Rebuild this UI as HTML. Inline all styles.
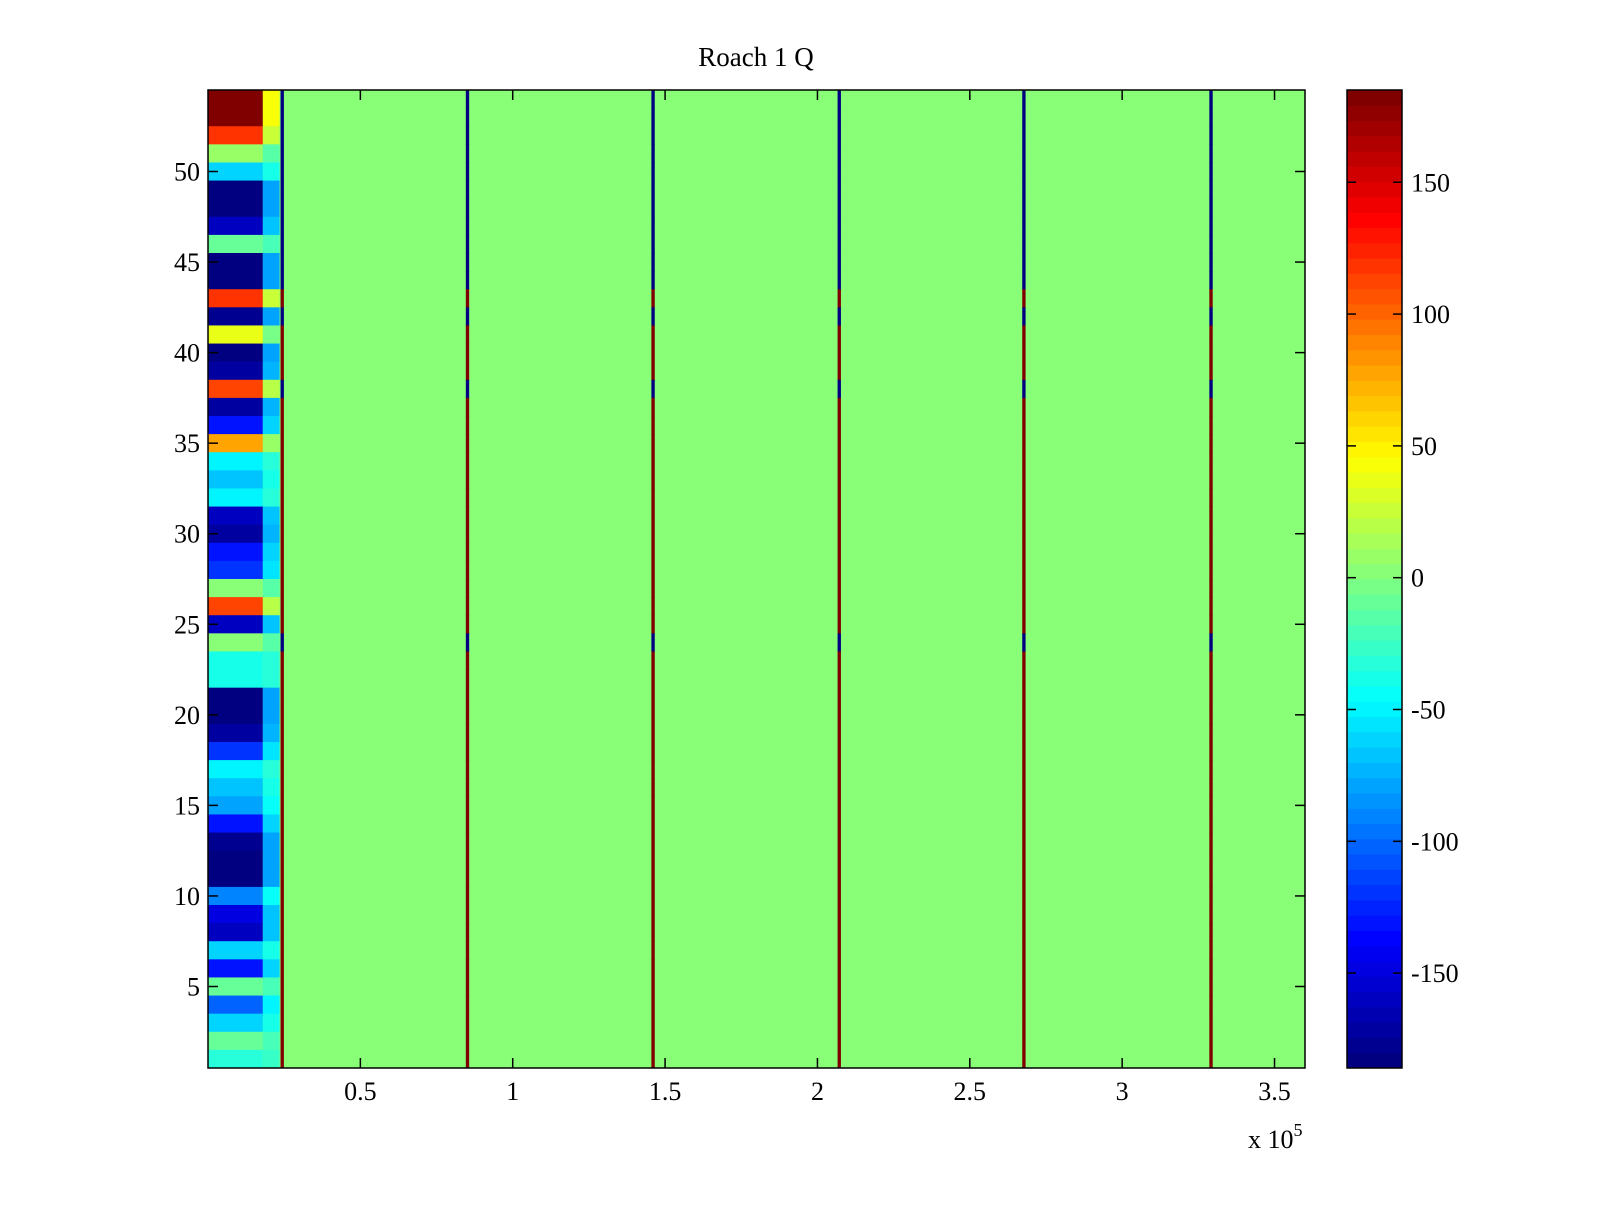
<!DOCTYPE html>
<html><head><meta charset="utf-8"><style>
html,body{margin:0;padding:0;background:#fff;}
svg text{font-family:"Liberation Serif",serif;fill:#000;}
</style></head><body>
<svg id="fig" width="1600" height="1200" xmlns="http://www.w3.org/2000/svg">
<rect width="1600" height="1200" fill="#fff"/>
<g id="heat"></g>
<g id="axes"></g>
<g id="cbar"></g>
<text x="756" y="66" font-size="27" text-anchor="middle">Roach 1 Q</text>
<text x="1248" y="1148" font-size="26">x 10<tspan dy="-12" font-size="18">5</tspan></text>
</svg>
<script>
// rows listed from top (row 54) to bottom (row 1)
const leftValues = [184,184,120,10,-60,-186,-186,-160,-10,-186,-186,120,-180,40,-186,-170,110,-170,-130,80,-50,-70,-50,-160,-170,-130,
 -120,0,110,-160,0,-40,-40,-186,-186,-170,-120,-50,-70,-80,-130,-180,-186,-186,-90,-150,-160,-60,-130,-10,-100,-60,-10,-30];
const lineValues = [-186,-186,-186,-186,-186,-186,-186,-186,-186,-186,-186,185,-186,185,185,185,-186,
 185,185,185,185,185,185,185,185,185,185,185,185,185,-186,185,185,185,185,185,185,185,185,185,185,185,185,185,185,185,185,185,185,185,185,185,185,185];
const linePositions = [0.243,0.851,1.460,2.071,2.677,3.291]; // x in units of 1e5
const bodyValue = 4;
const transitionValue = -25;
const leftBlockEnd = 0.18, transitionEnd = 0.235, lineWidth = 0.011;
const xTicks = [0.5,1,1.5,2,2.5,3,3.5];
const yTicks = [5,10,15,20,25,30,35,40,45,50];
const cTicks = [-150,-100,-50,0,50,100,150];
const cMin = -186, cMax = 185, xMax = 3.6, nRows = 54;

const L=208,R=1305,T=90,B=1068, CL=1347, CR=1402;
const sx = v => L + v/xMax*(R-L);
const rowH = (B-T)/nRows;
const sy = v => T + (nRows+0.5-v)*rowH;
const sc = v => B - (v-cMin)/(cMax-cMin)*(B-T);
function jet(v){
  let t=(v-cMin)/(cMax-cMin); t=Math.max(0,Math.min(1,t));
  t=Math.min(63,Math.floor(t*64))/63;
  const f=x=>Math.max(0,Math.min(1,x));
  const r=f(1.5-Math.abs(4*t-3)), g=f(1.5-Math.abs(4*t-2)), b=f(1.5-Math.abs(4*t-1));
  return `rgb(${Math.round(r*255)},${Math.round(g*255)},${Math.round(b*255)})`;
}
const NS='http://www.w3.org/2000/svg';
function mk(tag,attrs,parent){const e=document.createElementNS(NS,tag);for(const k in attrs)e.setAttribute(k,attrs[k]);parent.appendChild(e);return e;}
const heat=document.getElementById('heat');
const bg=mk('rect',{x:L,y:T,width:R-L,height:B-T,fill:jet(bodyValue)},heat);


leftValues.forEach((v,i)=>{
  const y=T+i*rowH;
  const a=mk('rect',{x:sx(0),y:y,width:sx(leftBlockEnd)-sx(0),height:rowH+0.5,fill:jet(v)},heat);
  
  
  const b=mk('rect',{x:sx(leftBlockEnd),y:y,width:sx(transitionEnd)-sx(leftBlockEnd),height:rowH+0.5,fill:jet((v+transitionValue*2)/3)},heat);
  
  
  linePositions.forEach(p=>{
    const c=mk('rect',{x:sx(p)-1.5,y:y,width:Math.max(3,sx(lineWidth)-sx(0)),height:rowH+0.5,fill:jet(lineValues[i])},heat);
    
    
  });
});
const ax=document.getElementById('axes');
const fr=mk('rect',{x:L,y:T,width:R-L,height:B-T,fill:'none',stroke:'#000','stroke-width':1.5},ax);


xTicks.forEach(t=>{
  const x=sx(t);
  mk('line',{x1:x,y1:B,x2:x,y2:B-10,stroke:'#000','stroke-width':1.5},ax);
  mk('line',{x1:x,y1:T,x2:x,y2:T+10,stroke:'#000','stroke-width':1.5},ax);
  const tx=mk('text',{x:x,y:B+32,'font-size':26,'text-anchor':'middle'},ax);
  tx.textContent=String(t);
  
  
});
yTicks.forEach(t=>{
  const y=sy(t);
  mk('line',{x1:L,y1:y,x2:L+10,y2:y,stroke:'#000','stroke-width':1.5},ax);
  mk('line',{x1:R,y1:y,x2:R-10,y2:y,stroke:'#000','stroke-width':1.5},ax);
  const tx=mk('text',{x:L-8,y:y+9,'font-size':26,'text-anchor':'end'},ax);
  tx.textContent=String(t);
  
  
});
const cb=document.getElementById('cbar');
for(let k=0;k<64;k++){
  const v0=cMin+(cMax-cMin)*k/64, v1=cMin+(cMax-cMin)*(k+1)/64;
  const r=mk('rect',{x:CL,y:sc(v1),width:CR-CL,height:sc(v0)-sc(v1)+0.5,fill:jet((v0+v1)/2)},cb);
  
  
}
const cf=mk('rect',{x:CL,y:T,width:CR-CL,height:B-T,fill:'none',stroke:'#000','stroke-width':1.5},cb);


cTicks.forEach(t=>{
  const y=sc(t);
  mk('line',{x1:CL,y1:y,x2:CL+9,y2:y,stroke:'#000','stroke-width':1.5},cb);
  mk('line',{x1:CR,y1:y,x2:CR-9,y2:y,stroke:'#000','stroke-width':1.5},cb);
  const tx=mk('text',{x:CR+9,y:y+9,'font-size':26},cb);
  tx.textContent=String(t);
  
  
});
</script>
</body></html>
